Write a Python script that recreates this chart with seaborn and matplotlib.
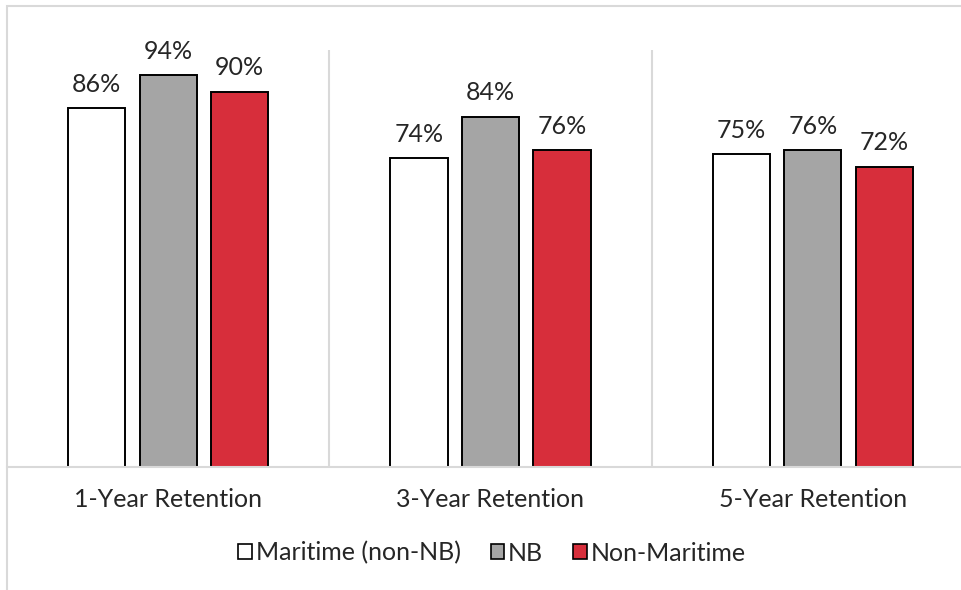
import matplotlib
matplotlib.use("Agg")
import matplotlib.pyplot as plt
import matplotlib.patches as mpatches
import seaborn as sns
import pandas as pd

# Retention rates by student origin
categories = ["1-Year Retention", "3-Year Retention", "5-Year Retention"]
groups = ["Maritime (non-NB)", "NB", "Non-Maritime"]
maritime_non_nb = [0.86, 0.74, 0.75]
nb = [0.94, 0.84, 0.76]
non_maritime = [0.90, 0.76, 0.72]
colors = ["#FFFFFF", "#A5A5A5", "#D72E3B"]

df = pd.DataFrame({
    "category": categories * 3,
    "group": [g for g in groups for _ in categories],
    "rate": maritime_non_nb + nb + non_maritime,
})

sns.set_theme(style="white")
plt.rcParams["font.family"] = ["Lato", "DejaVu Sans"]

W, H = 961, 590
fig = plt.figure(figsize=(W / 100, H / 100), dpi=100)

# plot area in pixel terms: left 7, right 974 (runs past the canvas), top 50, bottom 467
ax = fig.add_axes([7 / W, (H - 467) / H, (974 - 7) / W, (467 - 50) / H])

sns.barplot(
    data=df, x="category", y="rate", hue="group",
    order=categories, hue_order=groups, palette=colors, saturation=1,
    width=0.666, gap=0.2, edgecolor="black", linewidth=1.4,
    ax=ax, legend=False,
)

ax.set_ylim(0, 1.0)
ax.set_xlim(-0.5, 2.5)
ax.set_xlabel("")
ax.set_ylabel("")
ax.set_yticks([])
for s in ["top", "right", "left"]:
    ax.spines[s].set_visible(False)
ax.spines["bottom"].set_color("#D9D9D9")
ax.spines["bottom"].set_linewidth(1.5)
ax.tick_params(axis="x", length=0, pad=15, labelsize=18, labelcolor="#262626")

# group separators
for xpos in [0.5, 1.5]:
    ax.axvline(xpos, ymin=0, ymax=1, color="#D9D9D9", linewidth=1.5, zorder=0)

for cont in ax.containers:
    ax.bar_label(cont, labels=[f"{v * 100:.0f}%" for v in cont.datavalues],
                 padding=9, fontsize=18, color="#262626")

handles = [mpatches.Patch(facecolor=c, edgecolor="black", linewidth=1.2) for c in colors]
fig.legend(handles, groups, loc="center", bbox_to_anchor=(492 / W, (H - 553) / H),
           ncol=3, frameon=False, fontsize=18, handlelength=0.55, handleheight=0.55,
           handletextpad=0.15, columnspacing=1.2, labelcolor="#262626")

# chart frame
frame = mpatches.Rectangle((7 / W, -0.1), 1.2, (H - 6) / H + 0.1,
                           transform=fig.transFigure, fill=False,
                           edgecolor="#D9D9D9", linewidth=1.5)
fig.patches.append(frame)

fig.savefig("out.png", dpi=100, facecolor="white")
